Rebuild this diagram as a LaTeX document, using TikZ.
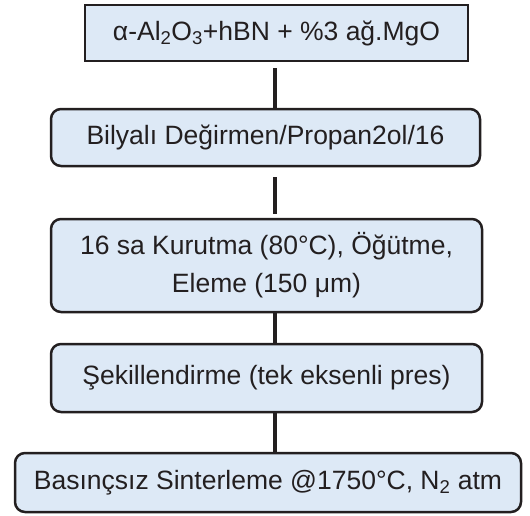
\documentclass[tikz,border=0pt]{standalone}
\usepackage{fontspec}
\setmainfont{Liberation Sans}
\usepackage{tikz}
\definecolor{bx}{HTML}{DDE9F6}
\definecolor{ink}{HTML}{231F20}
\usetikzlibrary{calc}

\begin{document}
\begin{tikzpicture}[x=1pt, y=-1pt,
  box/.style={draw=ink, fill=bx, line width=2.5pt, text=ink, align=center, inner sep=0pt,
    font=\fontsize{26.5}{38}\selectfont},
  rbox/.style={box, rounded corners=10pt},
  link/.style={draw=ink, line width=4.5pt}]
\useasboundingbox (0,0) rectangle (530,515);
\coordinate (spine) at (275,0);
\node[box, minimum width=383pt, minimum height=56pt] (mix) at (276.5,33) {α-Al\textsubscript{2}O\textsubscript{3}+hBN + \%3 ağ.MgO};
\node[rbox, minimum width=429pt, minimum height=57pt] (mill) at (265.5,137.5) {Bilyalı Değirmen/Propan2ol/16};
\node[rbox, minimum width=431pt, minimum height=93pt] (dry) at (266.5,265.5) {16 sa Kurutma (80°C), Öğütme,\\Eleme (150 μm)};
\node[rbox, minimum width=431pt, minimum height=68pt] (press) at (266.5,378) {Şekillendirme (tek eksenli pres)};
\node[rbox, minimum width=506pt, minimum height=59pt] (sinter) at (268,482.5) {Basınçsız Sinterleme @1750°C, N\textsubscript{2} atm};
\foreach \a/\b/\s/\e in {mix/mill/6/0, mill/dry/10/4, dry/press/0/0, press/sinter/0/0}{
\draw[link, shorten <=\s pt, shorten >=\e pt] (\a.south -| spine) -- (\b.north -| spine);
}
\end{tikzpicture}
\end{document}
